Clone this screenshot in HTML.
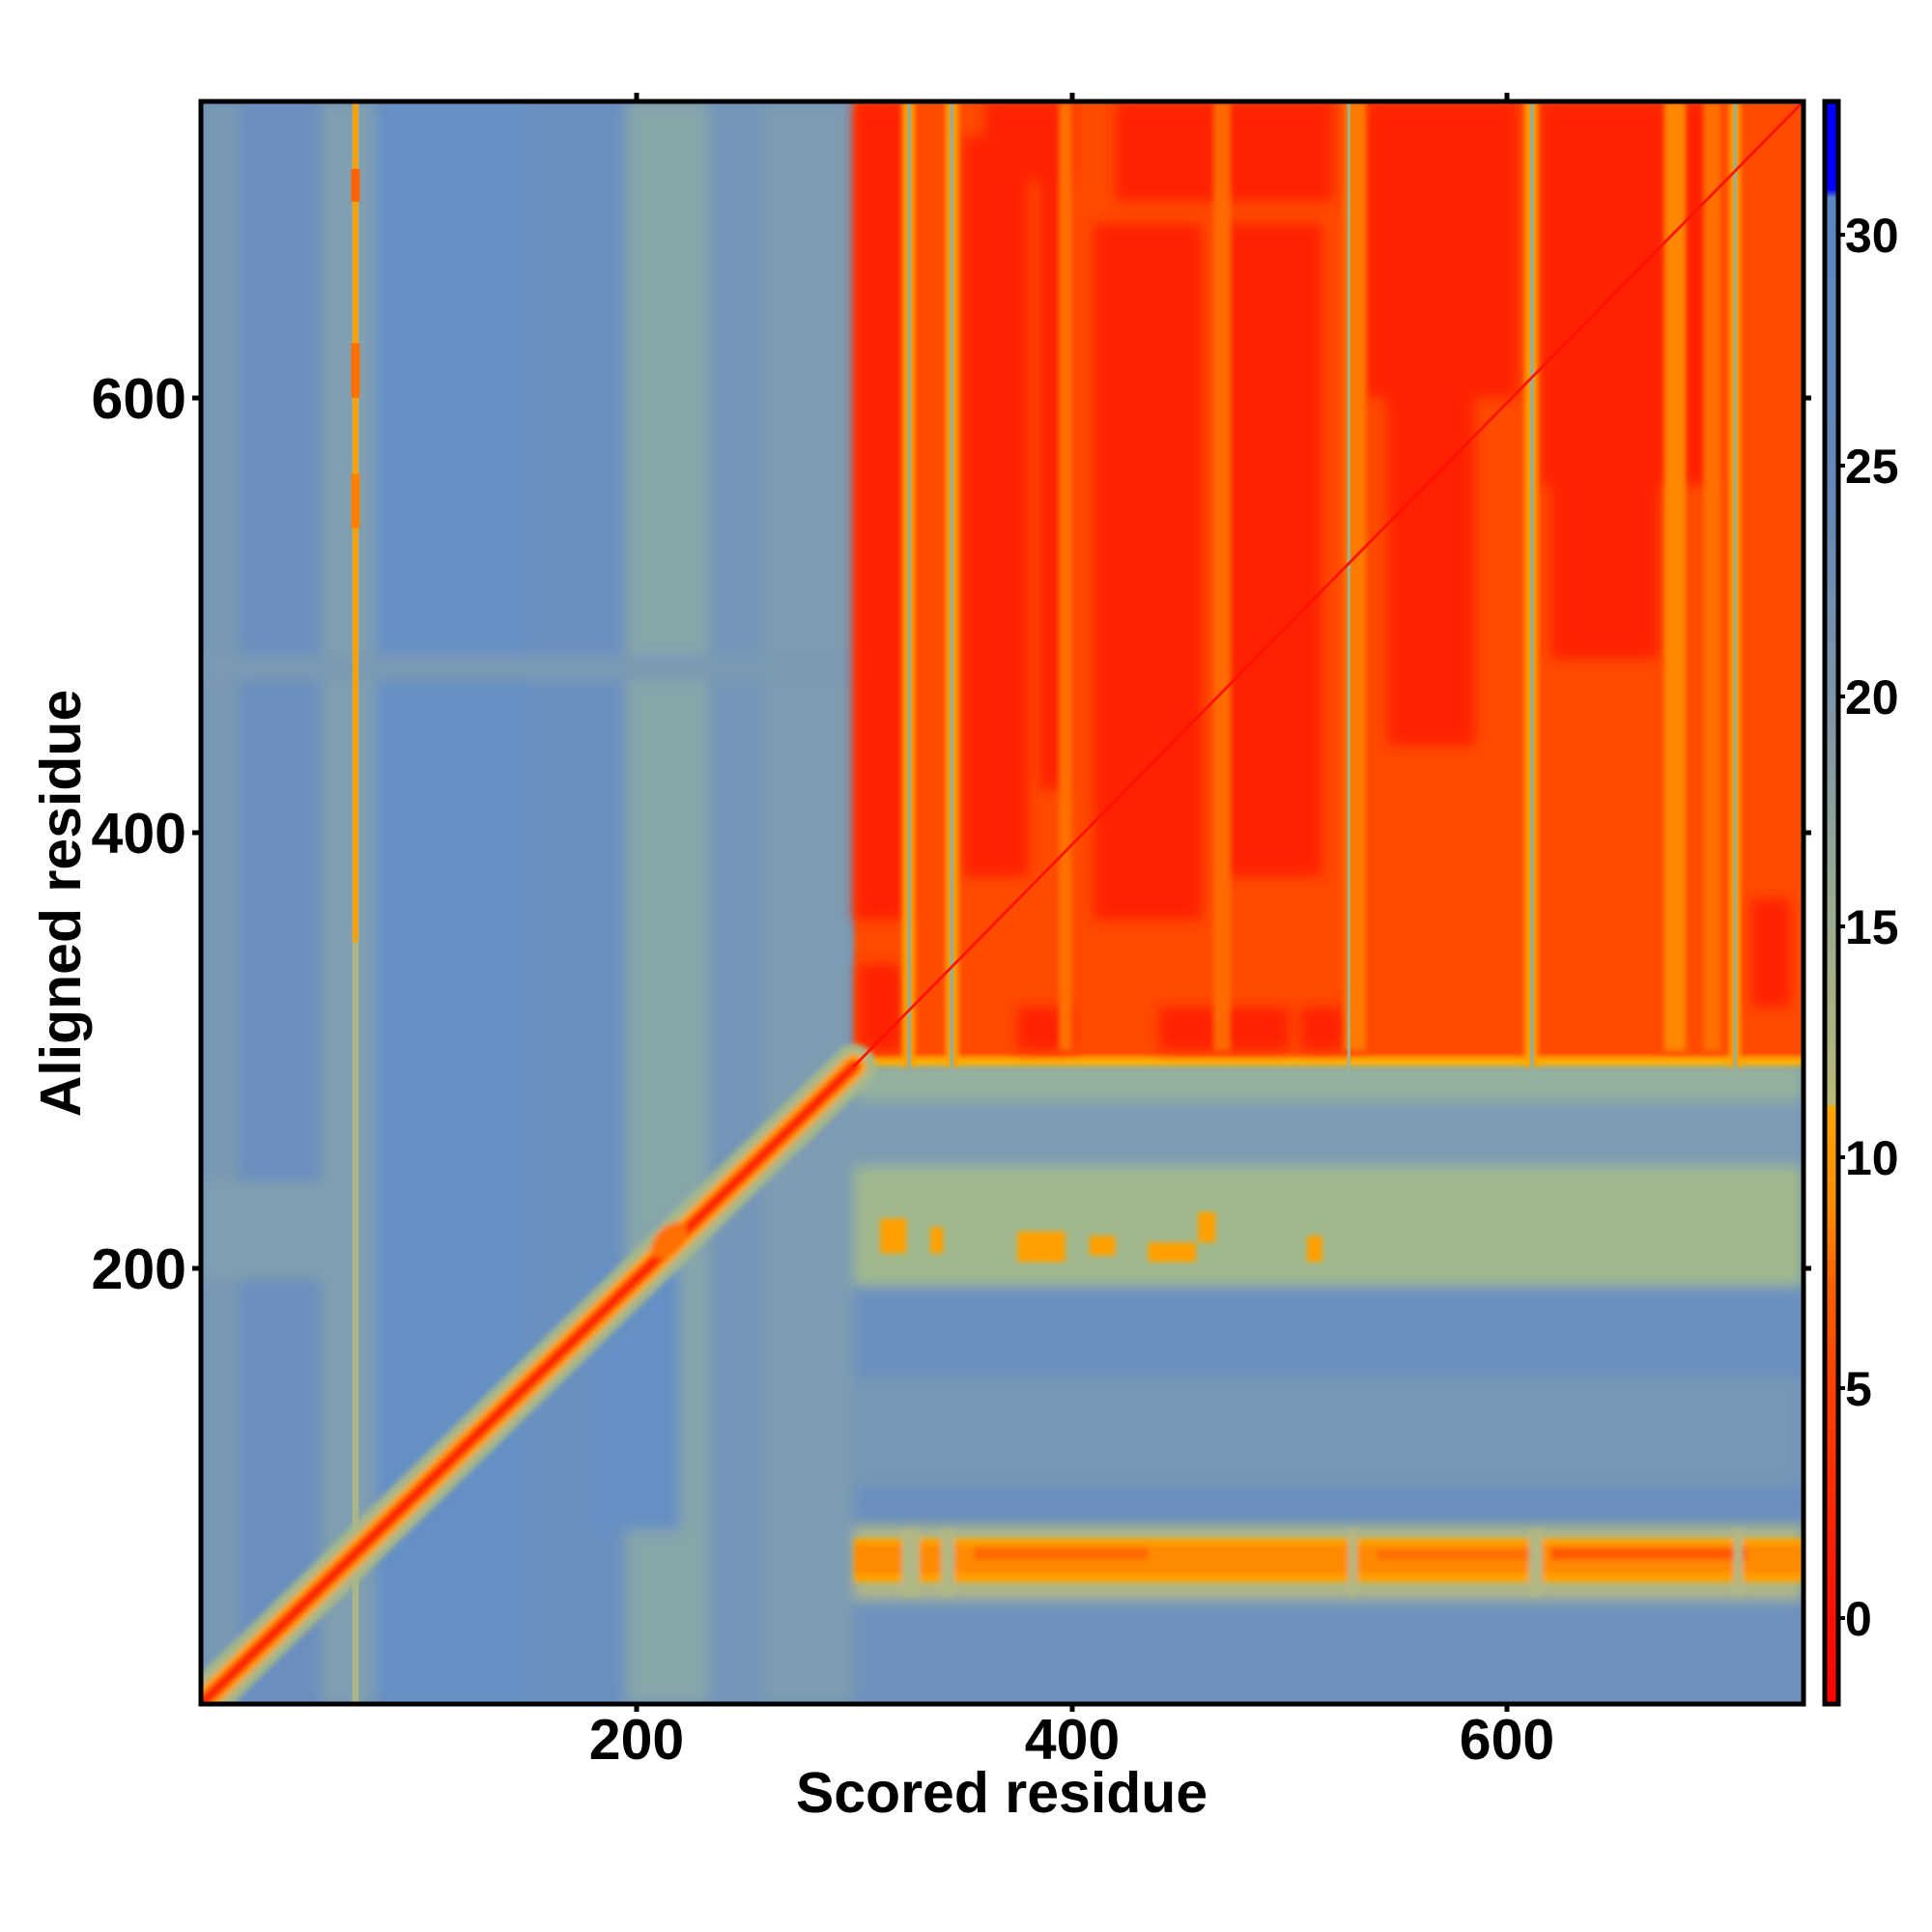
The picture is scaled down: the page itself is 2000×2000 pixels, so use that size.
<!DOCTYPE html>
<html><head><meta charset="utf-8"><style>
html,body{margin:0;padding:0;background:#fff;}
svg{display:block;}
text{font-family:"Liberation Sans",sans-serif;font-weight:bold;fill:#000;}
</style></head><body>
<svg width="2000" height="2000" viewBox="0 0 2000 2000" xmlns="http://www.w3.org/2000/svg">
<defs>
<filter id="b1" x="-5%" y="-5%" width="110%" height="110%"><feGaussianBlur stdDeviation="3"/></filter>
<filter id="b2" x="-5%" y="-5%" width="110%" height="110%"><feGaussianBlur stdDeviation="1.2"/></filter>
<clipPath id="cp"><rect x="0" y="0" width="736" height="736"/></clipPath>
<linearGradient id="cb" x1="0" y1="1" x2="0" y2="0">
<stop offset="0" stop-color="#ff0000"/>
<stop offset="0.1" stop-color="#ff2000"/>
<stop offset="0.2" stop-color="#ff4000"/>
<stop offset="0.26" stop-color="#ff6000"/>
<stop offset="0.31" stop-color="#ff8c00"/>
<stop offset="0.372" stop-color="#ffa500"/>
<stop offset="0.375" stop-color="#b8b878"/>
<stop offset="0.5" stop-color="#98aa90"/>
<stop offset="0.62" stop-color="#7f96a8"/>
<stop offset="0.75" stop-color="#6488b8"/>
<stop offset="0.94" stop-color="#5a88c4"/>
<stop offset="0.945" stop-color="#0000ff"/>
<stop offset="1" stop-color="#0000ff"/>
</linearGradient>
</defs>

<g transform="translate(208,1764) scale(2.254,-2.254)">
<g clip-path="url(#cp)">
<rect x="0" y="0" width="736" height="736" fill="#6a8fbe"/>
<g filter="url(#b1)">
<rect x="0" y="0" width="18" height="736" fill="#7898b4"/>
<rect x="55" y="0" width="30" height="736" fill="#809fb0"/>
<rect x="80" y="0" width="95" height="736" fill="#6590c4"/>
<rect x="150" y="0" width="45" height="736" fill="#6a90c0"/>
<rect x="195" y="0" width="38" height="736" fill="#87a6aa"/>
<rect x="233" y="0" width="25" height="736" fill="#7496b8"/>
<rect x="258" y="0" width="42" height="736" fill="#7d9cb2"/>
<rect x="180" y="80" width="40" height="120" fill="#6590c4"/>
<rect x="0" y="195" width="60" height="45" fill="#809fb0"/>
<rect x="0" y="470" width="300" height="12" fill="#7a9ab4"/>
<rect x="300" y="192" width="436" height="55" fill="#a0b88e"/>
<rect x="300" y="247" width="436" height="30" fill="#7e9cb2"/>
<rect x="300" y="277" width="436" height="18" fill="#94b09e"/>
<rect x="300" y="150" width="436" height="42" fill="#6a90be"/>
<rect x="300" y="100" width="436" height="50" fill="#7697b6"/>
<rect x="300" y="48" width="436" height="34" fill="#b0b884"/>
<rect x="300" y="0" width="436" height="48" fill="#6e92bc"/>
</g>
<g fill="#ffa000" filter="url(#b2)">
<rect x="312" y="207" width="12" height="16"/>
<rect x="335" y="207" width="6" height="12"/>
<rect x="375" y="203" width="22" height="14"/>
<rect x="408" y="206" width="12" height="9"/>
<rect x="435" y="203" width="22" height="9"/>
<rect x="458" y="212" width="8" height="14"/>
<rect x="508" y="203" width="7" height="12"/>
</g>
<g filter="url(#b2)">
<rect x="300" y="56" width="436" height="20" fill="#ffa000"/>
<rect x="300" y="60" width="436" height="13" fill="#ff8a00"/>
<rect x="355" y="66" width="80" height="6" fill="#ff6a00"/>
<rect x="540" y="66" width="70" height="5" fill="#ff7000"/>
<rect x="620" y="66" width="90" height="6" fill="#ff5a00"/>
<rect x="322" y="50" width="8" height="30" fill="#b0b884"/>
<rect x="340" y="50" width="6" height="30" fill="#b0b884"/>
<rect x="527" y="50" width="4" height="30" fill="#b0b884"/>
<rect x="610" y="50" width="6" height="30" fill="#b0b884"/>
<rect x="704" y="50" width="4" height="30" fill="#b0b884"/>
</g>
<g filter="url(#b2)">
<rect x="300" y="293" width="436" height="443" fill="#ffb000"/>
<rect x="300" y="297" width="436" height="439" fill="#ff4c00"/>
</g>
<g filter="url(#b1)" fill="#ff2200">
<rect x="300" y="360" width="25" height="376"/>
<rect x="302" y="300" width="20" height="40"/>
<rect x="350" y="380" width="30" height="340"/>
<rect x="385" y="420" width="12" height="300"/>
<rect x="410" y="360" width="50" height="320"/>
<rect x="470" y="380" width="45" height="300"/>
<rect x="440" y="300" width="60" height="20"/>
<rect x="375" y="300" width="25" height="20"/>
<rect x="505" y="300" width="20" height="20"/>
<rect x="545" y="440" width="40" height="220"/>
<rect x="535" y="600" width="70" height="136"/>
<rect x="615" y="560" width="80" height="176"/>
<rect x="620" y="480" width="50" height="80"/>
<rect x="360" y="700" width="40" height="36"/>
<rect x="420" y="690" width="100" height="46"/>
<rect x="712" y="320" width="18" height="50"/>
</g>
<g filter="url(#b2)">
<rect x="394" y="300" width="6" height="436" fill="#ff7000"/>
<rect x="465" y="300" width="8" height="436" fill="#ff6a00"/>
<rect x="525" y="300" width="10" height="436" fill="#ff7a00"/>
<rect x="672" y="300" width="10" height="436" fill="#ff8800"/>
<rect x="690" y="300" width="8" height="436" fill="#ff7000"/>
<rect x="322" y="293" width="6" height="443" fill="#ffa000"/>
<rect x="342" y="293" width="6" height="443" fill="#ffa000"/>
<rect x="608" y="293" width="6" height="443" fill="#ffa000"/>
<rect x="702" y="293" width="5" height="443" fill="#ffa000"/>
</g>
<g>
<rect x="324.5" y="290" width="1.6" height="446" fill="#8fb0a0"/>
<rect x="344" y="290" width="1.6" height="446" fill="#8fb0a0"/>
<rect x="526.5" y="290" width="1.4" height="446" fill="#9ab49a"/>
<rect x="610.5" y="290" width="1.6" height="446" fill="#8fb0a0"/>
<rect x="704" y="290" width="1.4" height="446" fill="#8fb0a0"/>
<rect x="69.5" y="0" width="3" height="736" fill="#a8b688"/>
<rect x="69.8" y="350" width="2.4" height="386" fill="#ffa000"/>
<rect x="69" y="600" width="4" height="25" fill="#ff7000"/>
<rect x="69" y="690" width="4" height="15" fill="#ff6000"/>
<rect x="69" y="540" width="4" height="25" fill="#ff8000"/>
</g>
<g filter="url(#b2)" stroke-linecap="round">
<line x1="-5" y1="-5" x2="300" y2="293" stroke="#a8b888" stroke-width="20"/>
<line x1="-5" y1="-5" x2="300" y2="293" stroke="#ffa000" stroke-width="11"/>
<line x1="-5" y1="-5" x2="300" y2="293" stroke="#ff4000" stroke-width="6"/>
<line x1="-5" y1="-5" x2="300" y2="293" stroke="#ff1800" stroke-width="2.5"/>
<ellipse cx="215" cy="213" rx="6" ry="10" fill="#ff7000" transform="rotate(-45 215 213)"/>
</g>
<line x1="300" y1="293" x2="736" y2="736" stroke="#ff1000" stroke-width="1.2"/>
</g>
</g>

<rect x="208" y="105" width="1659" height="1659" fill="none" stroke="#000" stroke-width="5"/>
<g stroke="#000" stroke-width="5">
<line x1="659" y1="96" x2="659" y2="105"/><line x1="1110" y1="96" x2="1110" y2="105"/><line x1="1560" y1="96" x2="1560" y2="105"/>
<line x1="659" y1="1764" x2="659" y2="1772"/><line x1="1110" y1="1764" x2="1110" y2="1772"/><line x1="1560" y1="1764" x2="1560" y2="1772"/>
<line x1="199" y1="412" x2="208" y2="412"/><line x1="199" y1="862" x2="208" y2="862"/><line x1="199" y1="1313" x2="208" y2="1313"/>
<line x1="1867" y1="412" x2="1875" y2="412"/><line x1="1867" y1="862" x2="1875" y2="862"/><line x1="1867" y1="1313" x2="1875" y2="1313"/>
</g>
<g font-size="59" text-anchor="middle">
<text x="659" y="1821">200</text><text x="1110" y="1821">400</text><text x="1560" y="1821">600</text>
</g>
<g font-size="59" text-anchor="end">
<text x="193" y="433">600</text><text x="193" y="883">400</text><text x="193" y="1334">200</text>
</g>
<text x="1037" y="1876" font-size="59" text-anchor="middle">Scored residue</text>
<text transform="translate(83,935) rotate(-90)" font-size="59" text-anchor="middle">Aligned residue</text>

<rect x="1889" y="105" width="14" height="1659" fill="url(#cb)" stroke="#000" stroke-width="5"/>
<g stroke="#000" stroke-width="4">
<line x1="1903" y1="1675" x2="1910" y2="1675"/><line x1="1903" y1="1437" x2="1910" y2="1437"/><line x1="1903" y1="1198" x2="1910" y2="1198"/>
<line x1="1903" y1="959" x2="1910" y2="959"/><line x1="1903" y1="721" x2="1910" y2="721"/><line x1="1903" y1="482" x2="1910" y2="482"/><line x1="1903" y1="243" x2="1910" y2="243"/>
</g>
<g font-size="50">
<text x="1910" y="1693">0</text><text x="1910" y="1455">5</text><text x="1910" y="1216">10</text>
<text x="1910" y="977">15</text><text x="1910" y="739">20</text><text x="1910" y="500">25</text><text x="1910" y="261">30</text>
</g>
</svg>
</body></html>
